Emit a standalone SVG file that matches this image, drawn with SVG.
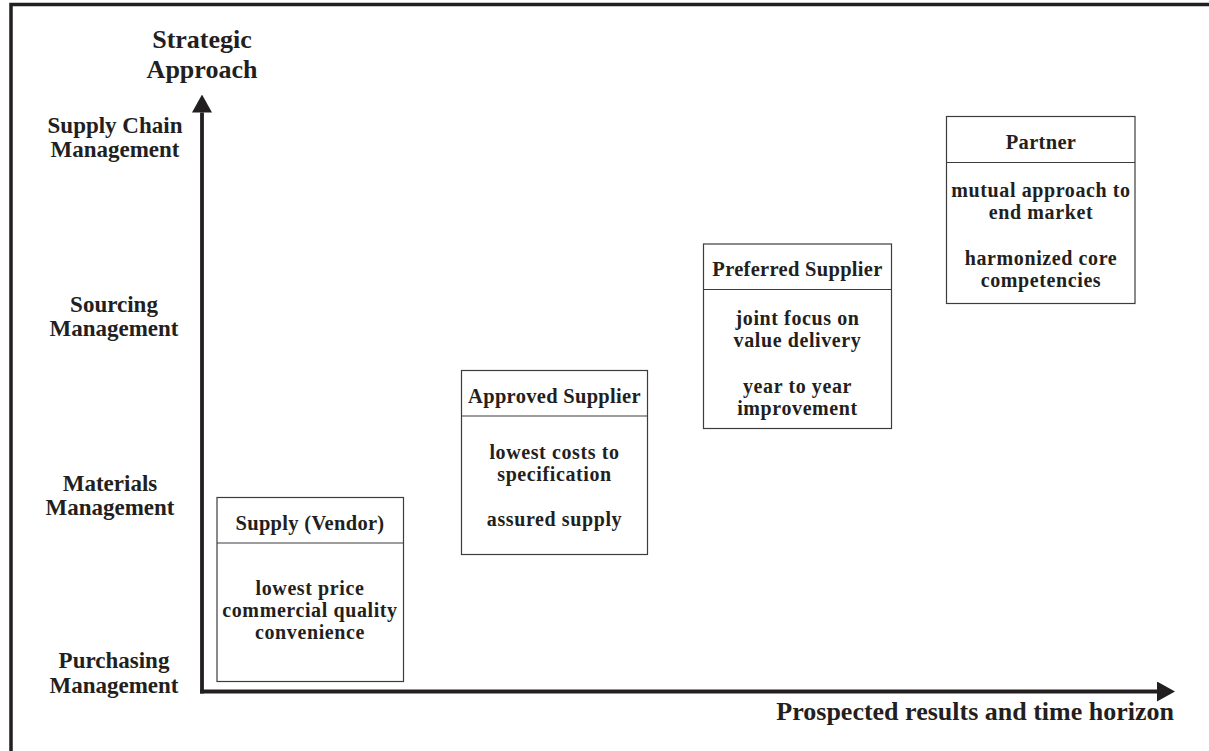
<svg xmlns="http://www.w3.org/2000/svg" width="1209" height="751" viewBox="0 0 1209 751">
  <style>
    text { font-family: "Liberation Serif", "Times New Roman", serif; font-weight: bold; fill: #231f20; text-anchor: middle; }
    .axis-title { font-size: 26px; }
    .level { font-size: 23px; }
    .box-title { font-size: 20.5px; letter-spacing: 0.3px; }
    .box-body { font-size: 20px; letter-spacing: 0.6px; }
    .box { fill: #ffffff; stroke: #3c3c3c; stroke-width: 1.2; }
    .divider { stroke: #3c3c3c; stroke-width: 1.2; }
    .axis { fill: none; stroke: #231f20; stroke-width: 3.8; }
    .frame { fill: none; stroke: #231f20; stroke-width: 3.5; }
  </style>
  <defs>
    <marker id="arrow" viewBox="0 0 18 20" refX="0" refY="10" markerWidth="18" markerHeight="20" markerUnits="userSpaceOnUse" orient="auto">
      <path d="M0,0 L18,10 L0,20 Z" fill="#231f20"/>
    </marker>
  </defs>

  <rect width="1209" height="751" fill="#ffffff"/>

  <!-- outer frame (top and left edges) -->
  <path class="frame" d="M11,751 V4.5 H1209"/>

  <!-- axes -->
  <g id="connectors">
    <path class="axis" d="M202,693.4 V112.5" marker-end="url(#arrow)"/>
    <path class="axis" d="M200.1,691.5 H1157" marker-end="url(#arrow)"/>
  </g>

  <!-- axis titles -->
  <g id="y-axis-title">
    <text class="axis-title" x="202" y="48">Strategic</text>
    <text class="axis-title" x="202" y="78">Approach</text>
  </g>
  <g id="x-axis-title">
    <text class="axis-title" x="1174" y="720" style="text-anchor:end">Prospected results and time horizon</text>
  </g>

  <!-- levels on the vertical axis -->
  <g id="level-scm">
    <text class="level" x="115" y="133">Supply Chain</text>
    <text class="level" x="115" y="157">Management</text>
  </g>
  <g id="level-sourcing">
    <text class="level" x="114" y="312">Sourcing</text>
    <text class="level" x="114" y="336">Management</text>
  </g>
  <g id="level-materials">
    <text class="level" x="110" y="491">Materials</text>
    <text class="level" x="110" y="515">Management</text>
  </g>
  <g id="level-purchasing">
    <text class="level" x="114" y="668">Purchasing</text>
    <text class="level" x="114" y="693">Management</text>
  </g>

  <!-- relationship stages -->
  <g id="stage-vendor">
    <rect class="box" x="217" y="497.5" width="186.5" height="184"/>
    <line class="divider" x1="217" y1="543" x2="403.5" y2="543"/>
    <text class="box-title" x="310" y="530">Supply (Vendor)</text>
    <text class="box-body" x="310" y="595">lowest price</text>
    <text class="box-body" x="310" y="617">commercial quality</text>
    <text class="box-body" x="310" y="639">convenience</text>
  </g>

  <g id="stage-approved">
    <rect class="box" x="461.5" y="370.5" width="186" height="184"/>
    <line class="divider" x1="461.5" y1="416" x2="647.5" y2="416"/>
    <text class="box-title" x="554.5" y="403">Approved Supplier</text>
    <text class="box-body" x="554.5" y="459">lowest costs to</text>
    <text class="box-body" x="554.5" y="481">specification</text>
    <text class="box-body" x="554.5" y="526">assured supply</text>
  </g>

  <g id="stage-preferred">
    <rect class="box" x="703.5" y="244" width="188" height="184.5"/>
    <line class="divider" x1="703.5" y1="289.5" x2="891.5" y2="289.5"/>
    <text class="box-title" x="797.5" y="276">Preferred Supplier</text>
    <text class="box-body" x="797.5" y="325">joint focus on</text>
    <text class="box-body" x="797.5" y="347">value delivery</text>
    <text class="box-body" x="797.5" y="393">year to year</text>
    <text class="box-body" x="797.5" y="415">improvement</text>
  </g>

  <g id="stage-partner">
    <rect class="box" x="946.5" y="116.5" width="188.5" height="187"/>
    <line class="divider" x1="946.5" y1="162.5" x2="1135" y2="162.5"/>
    <text class="box-title" x="1041" y="149">Partner</text>
    <text class="box-body" x="1041" y="197">mutual approach to</text>
    <text class="box-body" x="1041" y="219">end market</text>
    <text class="box-body" x="1041" y="265">harmonized core</text>
    <text class="box-body" x="1041" y="287">competencies</text>
  </g>
</svg>
